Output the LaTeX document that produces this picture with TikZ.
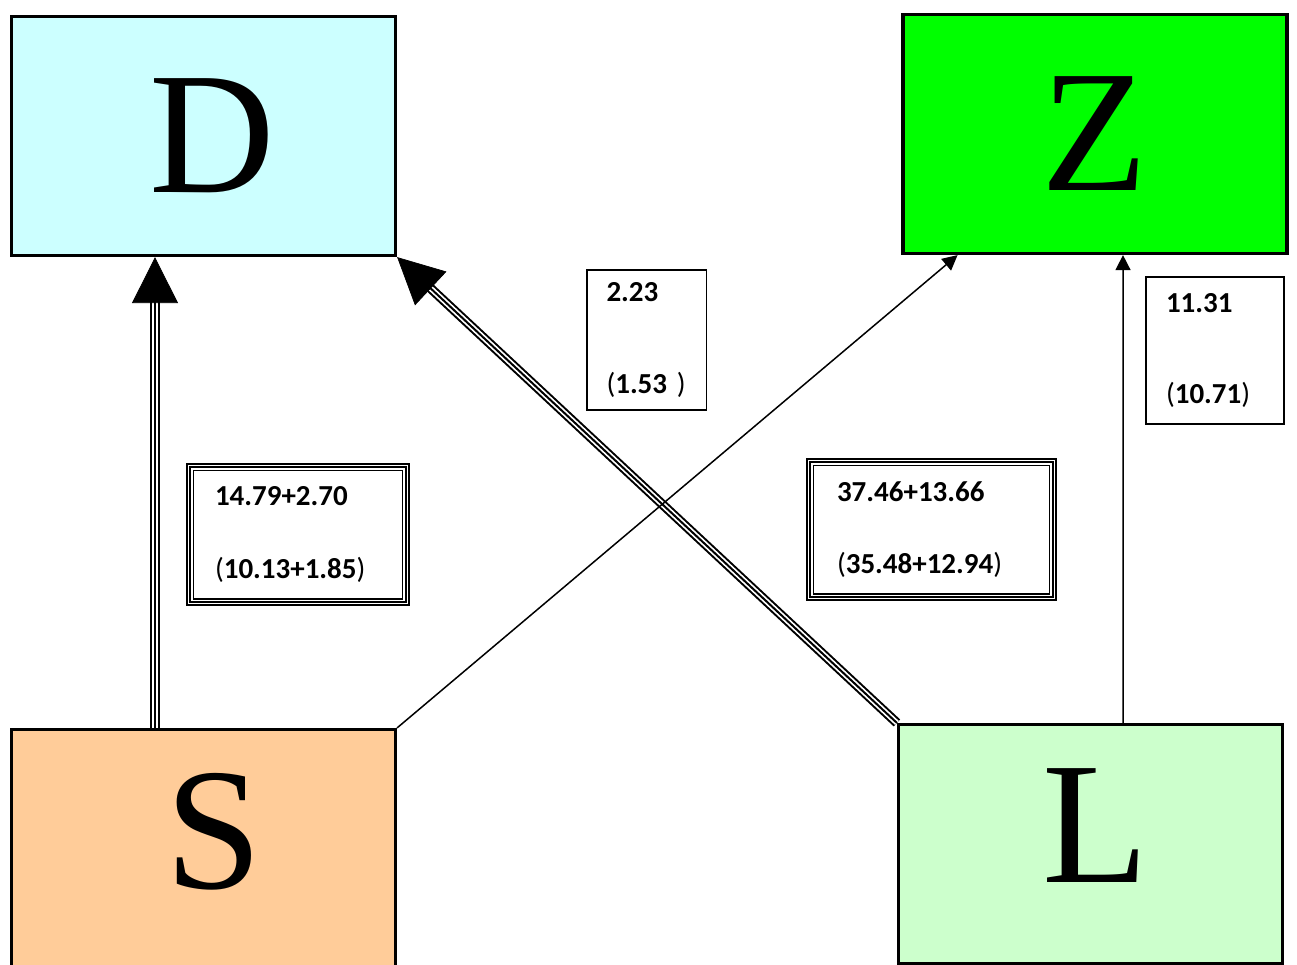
\documentclass[tikz,border=0pt]{standalone}
\usepackage{fontspec}
\setmainfont{Liberation Serif}
\newfontfamily\labelfont{Carlito}
\usepackage{xcolor}
\usetikzlibrary{arrows.meta,calc}
\definecolor{dcol}{HTML}{CCFFFF}
\definecolor{zcol}{HTML}{00FF00}
\definecolor{scol}{HTML}{FFCC99}
\definecolor{lcol}{HTML}{CCFFCC}

\begin{document}
\begin{tikzpicture}[x=0.02cm,y=-0.02cm,
    blockbox/.style={draw,line width=0.065cm,minimum width=7.68cm,minimum height=4.78cm,inner sep=0pt,font=\fontsize{99}{99}\selectfont},
    valbox/.style={draw,line width=0.04cm,align=left,inner ysep=0pt,font=\labelfont\fontsize{16.5}{52}\selectfont},
    triplebox/.style={draw=white,line width=0.1cm,align=left,inner ysep=0pt,
      preaction={draw=black,line width=0.16cm},postaction={draw=black,line width=0.03cm},
      font=\labelfont\fontsize{16.5}{41}\selectfont},
    triple/.style={draw=white,line width=0.11cm,preaction={draw=black,line width=0.19cm},postaction={draw=black,line width=0.04cm}},
    thinarrow/.style={line width=0.03cm,-{Triangle[length=0.3cm,width=0.3cm]}},
    bighead/.style={-{Triangle[length=0.92cm,width=0.92cm]}}]
      \useasboundingbox (0,0) rectangle (1297,964);
      \node[blockbox,fill=dcol] (D) at (203.5,136) {\hspace{0.35cm}D};
      \node[blockbox,fill=zcol] (Z) at (1095,134) {Z};
      \node[blockbox,fill=scol,text depth=0.72cm] (S) at (203.5,849) {\hspace{0.4cm}S};
      \node[blockbox,fill=lcol,text depth=0.72cm] (L) at (1090.5,844) {\hspace{0.2cm}L};
      \coordinate (sdfoot) at ($(S.north)+(-48.5,0)$);
      \coordinate (sdtip) at ($(D.south)+(-48.5,0)$);
      \coordinate (sztip) at ($(Z.south west)!0.145!(Z.south east)$);
      \coordinate (lzfoot) at ($(L.north)+(32.5,0)$);
      \coordinate (lztip) at ($(Z.south)+(28,0)$);
      \draw [triple,shorten >=0.8cm] (sdfoot) -- (sdtip);
      \draw [bighead] ($(sdtip)!0.92cm!(sdfoot)$) -- (sdtip);
      \draw [triple,shorten >=0.8cm] (L.north west) -- (D.south east);
      \draw [bighead] ($(D.south east)!0.92cm!(L.north west)$) -- (D.south east);
      \draw [thinarrow] (S.north east) -- (sztip);
      \draw [thinarrow] (lzfoot) -- (lztip);
      \node[triplebox,minimum width=4.32cm,minimum height=2.7cm,inner xsep=0.5cm,text width=3.32cm] (valsd) at (298,534.5) {\textbf{14.79+2.70}\\(\textbf{10.13+1.85})};
      \node[triplebox,minimum width=4.86cm,minimum height=2.7cm,inner xsep=0.54cm,text width=3.78cm] (valld) at (931.5,529.5) {\textbf{37.46+13.66}\\(\textbf{35.48+12.94})};
      \node[valbox,minimum width=2.4cm,minimum height=2.8cm,inner xsep=0.4cm,text width=1.6cm] (valsz) at (646.5,340) {\textbf{2.23}\\(\textbf{1.53}~)};
      \node[valbox,minimum width=2.76cm,minimum height=2.94cm,inner xsep=0.4cm,text width=1.96cm] (vallz) at (1215,350.5) {\textbf{11.31}\\(\textbf{10.71})};
    \end{tikzpicture}
\end{document}
